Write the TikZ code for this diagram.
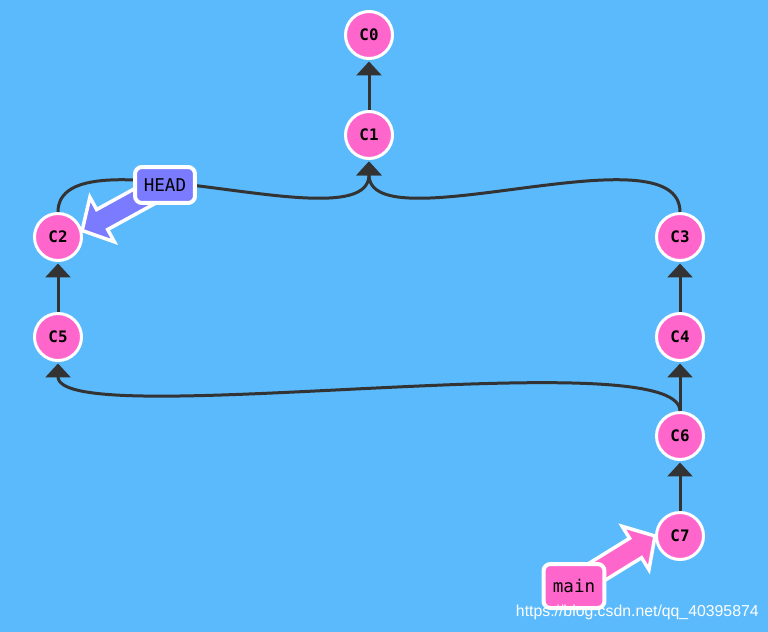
\documentclass[tikz,border=0pt]{standalone}
\usepackage{fontspec}
\usepackage{xcolor}
\usepackage{tikz}
\usetikzlibrary{arrows.meta, calc, positioning}
\newfontfamily\monofont{DejaVu Sans Mono}
\newfontfamily\urlfont{Liberation Sans}
\definecolor{bgblue}{RGB}{91,186,252}
\definecolor{commitpink}{RGB}{255,102,204}
\definecolor{headblue}{RGB}{123,123,255}
\definecolor{edgegray}{RGB}{51,51,51}

\tikzset{
  commit/.style={circle, fill=commitpink, draw=white, line width=0.06cm,
    minimum size=0.94cm, inner sep=0pt, font=\monofont\bfseries\fontsize{9}{11}\selectfont},
  refbox/.style={rectangle, rounded corners=0.14cm, draw=white, line width=0.08cm,
    inner sep=0pt, font=\monofont\fontsize{10}{12}\selectfont},
  parentlink/.style={edgegray, line width=0.06cm, -{Triangle[width=0.5cm, length=0.28cm]},
    shorten >=0.03cm},
}

% fat pointer from a ref box (#1) to a commit anchor (#2)
\newcommand{\fatarrow}[3]{
  \path (#2) coordinate (arrowtip) ($(arrowtip)!13pt!(#1)$) coordinate (arrowbase);
  \filldraw[fill=#3, draw=white, line width=0.07cm]
    (arrowtip) -- ($(arrowbase)!14.5pt!90:(arrowtip)$)
    -- ($(arrowbase)!6.5pt!90:(arrowtip)$) -- ($(#1)!6.5pt!90:(arrowtip)$)
    -- ($(#1)!6.5pt!-90:(arrowtip)$) -- ($(arrowbase)!6.5pt!-90:(arrowtip)$)
    -- ($(arrowbase)!14.5pt!-90:(arrowtip)$) -- cycle;
}

\begin{document}
\begin{tikzpicture}[x=0.02cm, y=-0.02cm]
    \fill[bgblue] (0,0) rectangle (768,632);
    \useasboundingbox (0,0) rectangle (768,632);

    % Commits
    \node[commit] (C0) at (369,35) {C0};
    \node[commit] (C1) at (369,135) {C1};
    \node[commit] (C2) at (58,237) {C2};
    \node[commit] (C5) at (58,337) {C5};
    \node[commit] (C3) at (680,237) {C3};
    \node[commit] (C4) at (680,337) {C4};
    \node[commit] (C6) at (680,436) {C6};
    \node[commit] (C7) at (680,536) {C7};

    % Parents
    \draw[parentlink] (C1) -- (C0);
    \draw[parentlink] (C2.north) .. controls +(0,-85) and +(0,85) .. (C1.south);
    \draw[parentlink] (C3.north) .. controls +(0,-85) and +(0,85) .. (C1.south);
    \draw[parentlink] (C5) -- (C2);
    \draw[parentlink] (C4) -- (C3);
    \draw[parentlink] (C6) -- (C4);
    \draw[parentlink] (C6.north) .. controls +(0,-72) and +(0,72) .. (C5.south);
    \draw[parentlink] (C7) -- (C6);

    % Refs
    \coordinate (HEADpos) at (165,185);
    \coordinate (mainpos) at (574,586);
    \fatarrow{HEADpos}{C2.15}{headblue}
    \fatarrow{mainpos}{C7.west}{commitpink}
    \node[refbox, fill=headblue, minimum width=1.2cm, minimum height=0.72cm] (HEAD) at (HEADpos) {HEAD};
    \node[refbox, fill=commitpink, minimum width=1.22cm, minimum height=0.88cm] (main) at (mainpos) {main};

    % Watermark
    \node[font=\urlfont\fontsize{9}{11}\selectfont, text=white, anchor=east, inner sep=0pt] (wm) at (759,612) {https://blog.csdn.net/qq\_40395874};
\end{tikzpicture}
\end{document}
